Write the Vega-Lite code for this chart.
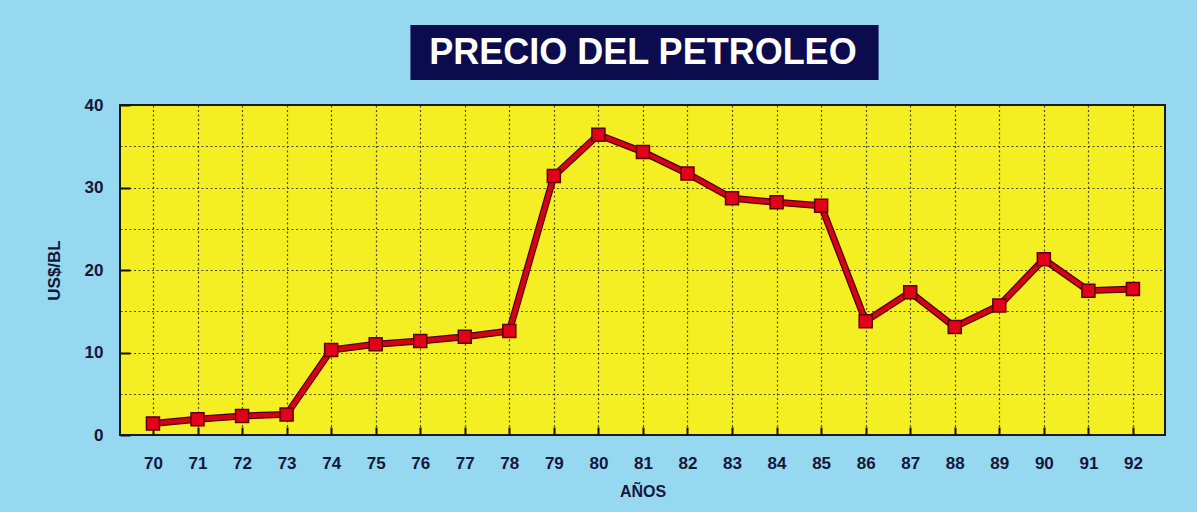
{
  "$schema": "https://vega.github.io/schema/vega-lite/v6.json",
  "width": 1045,
  "height": 330,
  "autosize": {"type": "none"},
  "padding": {"left": 120, "top": 105, "right": 32, "bottom": 77},
  "background": "#95d8ef",
  "config": {
    "view": {"fill": "#f4ef22", "stroke": "#1a1a1a", "strokeWidth": 2},
    "axis": {
      "labelFont": "Liberation Sans",
      "labelFontWeight": "bold",
      "labelFontSize": 17,
      "labelColor": "#16163a",
      "titleFont": "Liberation Sans",
      "titleFontWeight": "bold",
      "titleFontSize": 16,
      "titleColor": "#16163a",
      "domain": false,
      "grid": true,
      "gridColor": "#222222",
      "gridDash": [2, 2.5],
      "gridWidth": 1.2,
      "gridOpacity": 0.8,
      "tickColor": "#111111",
      "tickWidth": 2
    }
  },
  "datasets": {
    "prices": [
      {"year": 70, "price": 1.4},
      {"year": 71, "price": 1.9},
      {"year": 72, "price": 2.3},
      {"year": 73, "price": 2.5},
      {"year": 74, "price": 10.3},
      {"year": 75, "price": 11.0},
      {"year": 76, "price": 11.4},
      {"year": 77, "price": 11.9},
      {"year": 78, "price": 12.6},
      {"year": 79, "price": 31.4},
      {"year": 80, "price": 36.4},
      {"year": 81, "price": 34.3},
      {"year": 82, "price": 31.7},
      {"year": 83, "price": 28.7},
      {"year": 84, "price": 28.2},
      {"year": 85, "price": 27.8},
      {"year": 86, "price": 13.8},
      {"year": 87, "price": 17.3},
      {"year": 88, "price": 13.1},
      {"year": 89, "price": 15.7},
      {"year": 90, "price": 21.3},
      {"year": 91, "price": 17.5},
      {"year": 92, "price": 17.7}
    ],
    "titlebox": [{"label": "PRECIO DEL PETROLEO"}]
  },
  "layer": [
    {
      "data": {"name": "titlebox"},
      "layer": [
        {
          "mark": {"type": "rect", "fill": "#0b0b4d", "clip": false},
          "encoding": {
            "x": {"datum": 75.78, "type": "quantitative"},
            "x2": {"datum": 86.29},
            "y": {"datum": 49.7, "type": "quantitative"},
            "y2": {"datum": 43.03}
          }
        },
        {
          "mark": {"type": "text", "font": "Liberation Sans", "fontSize": 36, "fontWeight": "bold", "color": "#ffffff", "align": "center", "baseline": "alphabetic", "clip": false},
          "encoding": {
            "x": {"datum": 81.0, "type": "quantitative"},
            "y": {"datum": 44.97, "type": "quantitative"},
            "text": {"field": "label"}
          }
        }
      ]
    },
    {
      "data": {"name": "prices"},
      "encoding": {
        "x": {
          "field": "year",
          "type": "quantitative",
          "scale": {"domain": [69.26, 92.72], "nice": false, "zero": false},
          "axis": {
            "title": "AÑOS",
            "values": [70, 70.5, 71, 71.5, 72, 72.5, 73, 73.5, 74, 74.5, 75, 75.5, 76, 76.5, 77, 77.5, 78, 78.5, 79, 79.5, 80, 80.5, 81, 81.5, 82, 82.5, 83, 83.5, 84, 84.5, 85, 85.5, 86, 86.5, 87, 87.5, 88, 88.5, 89, 89.5, 90, 90.5, 91, 91.5, 92, 92.5],
            "labelExpr": "datum.value % 1 === 0 ? format(datum.value, 'd') : ''",
            "tickSize": -8,
            "tickOpacity": {"condition": {"test": "datum.value % 1 === 0", "value": 1}, "value": 0},
            "labelPadding": 28,
            "titlePadding": 12
          }
        },
        "y": {
          "field": "price",
          "type": "quantitative",
          "scale": {"domain": [0, 40], "nice": false, "zero": true},
          "axis": {
            "title": "US$/BL",
            "titleFontSize": 17,
            "values": [0, 5, 10, 15, 20, 25, 30, 35, 40],
            "labelExpr": "datum.value % 10 === 0 ? format(datum.value, 'd') : ''",
            "tickSize": -10,
            "tickOpacity": {"condition": {"test": "datum.value % 10 === 0", "value": 1}, "value": 0},
            "labelPadding": 27,
            "titlePadding": 21
          }
        }
      },
      "layer": [
        {"mark": {"type": "line", "color": "#4a0000", "strokeWidth": 7, "strokeJoin": "round"}},
        {"mark": {"type": "line", "color": "#d6001a", "strokeWidth": 4.5, "strokeJoin": "round"}},
        {"mark": {"type": "point", "shape": "square", "size": 169, "filled": true, "fill": "#e3001b", "stroke": "#5a0000", "strokeWidth": 1.5, "opacity": 1}}
      ]
    }
  ]
}
